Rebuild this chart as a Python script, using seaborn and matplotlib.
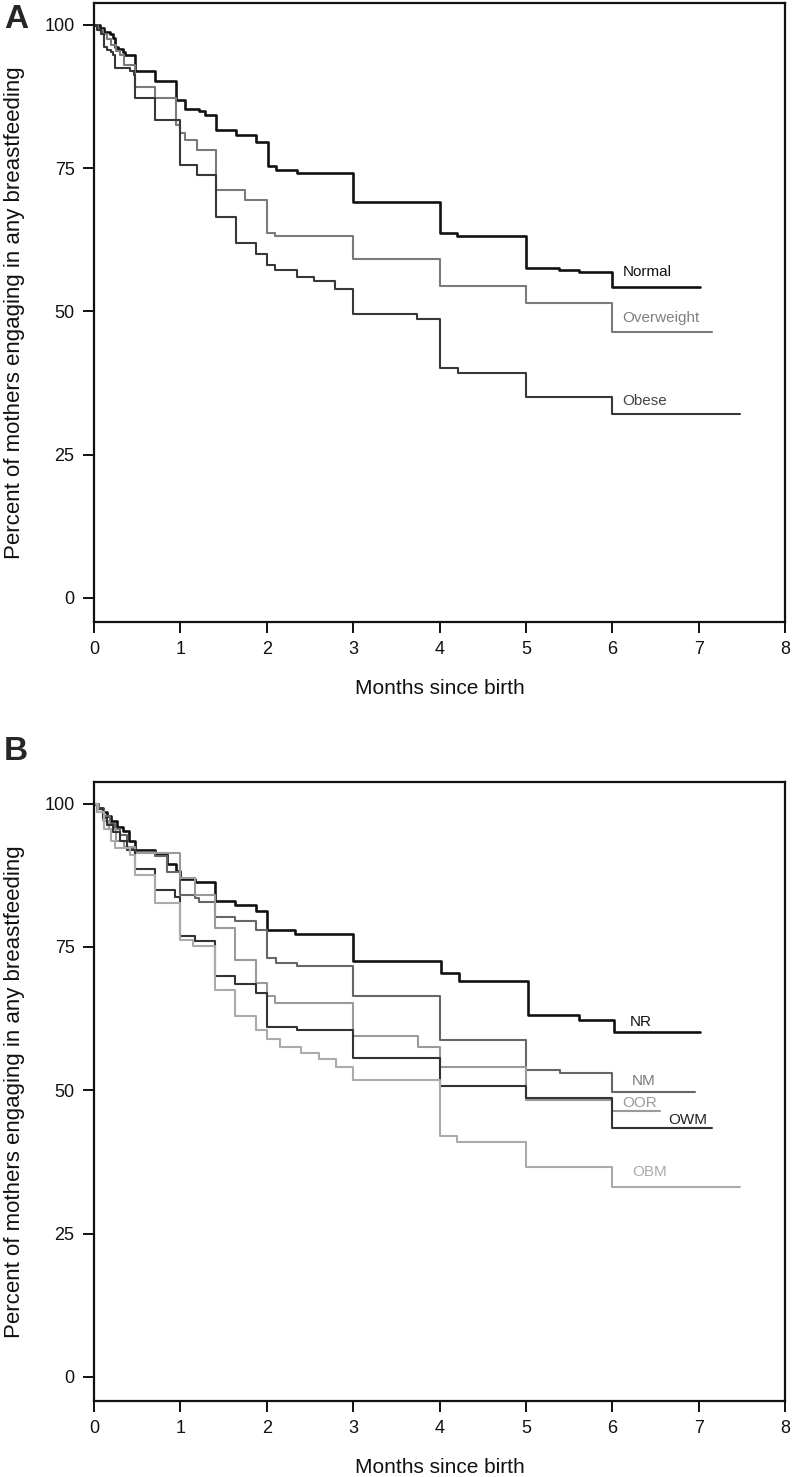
import numpy as np
import pandas as pd
import matplotlib
matplotlib.use("Agg")
import matplotlib.pyplot as plt
import seaborn as sns

# ---- Panel A: step curves (event time in months, percent still breastfeeding) ----
normal_t = [0, 0.07, 0.12, 0.18, 0.22, 0.24, 0.28, 0.34, 0.36, 0.47, 0.71, 0.95, 1.05, 1.22, 1.28,
            1.41, 1.64, 1.88, 2.01, 2.11, 2.35, 3.0, 4.0, 4.2, 5.0, 5.38, 5.62, 6.0, 7.02]
normal_y = [100, 99.4, 98.8, 98.3, 97.7, 96.2, 95.7, 95.3, 94.8, 91.9, 90.1, 86.9, 85.3, 84.9, 84.3,
            81.7, 80.8, 79.5, 75.3, 74.6, 74.1, 69.0, 63.6, 63.1, 57.5, 57.2, 56.8, 54.2, 54.2]

overweight_t = [0, 0.05, 0.1, 0.15, 0.2, 0.25, 0.3, 0.35, 0.47, 0.71, 0.95, 1.0, 1.05, 1.19, 1.41,
                1.75, 2.0, 2.1, 3.0, 4.0, 5.0, 6.0, 7.15]
overweight_y = [100, 99.0, 98.3, 97.5, 96.5, 95.5, 94.8, 93.0, 89.2, 87.2, 82.5, 81.1, 79.9, 78.2, 71.2,
                69.5, 63.7, 63.1, 59.2, 54.5, 51.5, 46.4, 46.4]

obese_t = [0, 0.03, 0.08, 0.11, 0.15, 0.2, 0.22, 0.24, 0.42, 0.46, 0.47, 0.71, 1.0, 1.19, 1.41,
           1.64, 1.88, 2.0, 2.1, 2.35, 2.55, 2.79, 3.0, 3.74, 4.0, 4.21, 5.0, 6.0, 7.48]
obese_y = [100, 99.0, 98.3, 96.2, 95.6, 95.3, 94.8, 92.4, 91.9, 91.3, 87.2, 83.4, 75.6, 73.8, 66.5,
           62.0, 60.0, 58.0, 57.2, 56.0, 55.3, 53.9, 49.6, 48.7, 40.1, 39.3, 35.0, 32.1, 32.1]

# ---- Panel B ----
nr_t = [0, 0.05, 0.1, 0.15, 0.2, 0.27, 0.33, 0.4, 0.47, 0.71, 0.85, 0.95, 1.0, 1.17, 1.4, 1.63,
        1.88, 2.0, 2.33, 3.0, 4.02, 4.22, 5.02, 5.62, 6.02, 7.02]
nr_y = [100, 99.3, 98.6, 97.8, 96.9, 96.0, 95.2, 93.5, 92.0, 91.2, 89.5, 88.3, 86.9, 86.3, 83.0, 82.4,
        81.2, 78.0, 77.3, 72.5, 70.5, 69.0, 63.1, 62.2, 60.1, 60.1]

nm_t = [0, 0.06, 0.12, 0.18, 0.24, 0.3, 0.38, 0.47, 0.71, 0.85, 1.0, 1.17, 1.22, 1.4, 1.63, 1.88,
        2.0, 2.11, 2.35, 3.0, 4.0, 5.0, 5.39, 6.0, 6.96]
nm_y = [100, 99.0, 97.8, 96.5, 95.5, 94.5, 92.3, 91.5, 90.8, 88.0, 84.1, 83.5, 82.9, 80.3, 79.5, 78.0,
        73.1, 72.2, 71.7, 66.4, 58.7, 53.6, 53.0, 49.7, 49.7]

oor_t = [0, 0.04, 0.1, 0.17, 0.25, 0.35, 0.47, 1.0, 1.17, 1.4, 1.63, 1.88, 2.0, 2.1, 3.0, 3.75,
         4.0, 5.0, 6.0, 6.55]
oor_y = [100, 98.5, 97.0, 95.5, 93.5, 92.5, 91.4, 87.0, 84.0, 78.3, 72.8, 68.7, 66.5, 65.2, 59.5, 57.6,
         54.0, 48.3, 46.3, 46.3]

owm_t = [0, 0.05, 0.1, 0.15, 0.22, 0.3, 0.38, 0.47, 0.71, 0.94, 1.0, 1.17, 1.4, 1.63, 1.88, 2.0,
         2.35, 3.0, 4.0, 5.0, 6.0, 7.16]
owm_y = [100, 99.0, 97.5, 96.3, 95.0, 93.5, 92.0, 88.6, 85.0, 83.8, 77.0, 76.0, 70.0, 68.5, 67.0, 61.0,
         60.6, 55.6, 50.8, 48.6, 43.4, 43.4]

obm_t = [0, 0.05, 0.11, 0.2, 0.24, 0.42, 0.47, 0.71, 1.0, 1.15, 1.4, 1.63, 1.88, 2.0, 2.15, 2.4,
         2.6, 2.8, 3.0, 4.0, 4.2, 5.0, 6.0, 7.48]
obm_y = [100, 98.6, 95.5, 93.5, 92.3, 91.0, 87.6, 82.7, 76.3, 75.1, 67.5, 63.0, 60.5, 59.0, 57.5, 56.5,
         55.5, 54.0, 51.8, 42.0, 41.0, 36.6, 33.2, 33.2]

x_ticks = [0, 1, 2, 3, 4, 5, 6, 7, 8]
y_ticks = [0, 25, 50, 75, 100]


def long_df(curves):
    frames = []
    for name, t, y in curves:
        frames.append(pd.DataFrame({"month": t, "pct": y, "group": name}))
    return pd.concat(frames, ignore_index=True)


df_a = long_df([("Normal", normal_t, normal_y),
                ("Overweight", overweight_t, overweight_y),
                ("Obese", obese_t, obese_y)])
df_b = long_df([("NR", nr_t, nr_y), ("NM", nm_t, nm_y), ("OOR", oor_t, oor_y),
                ("OWM", owm_t, owm_y), ("OBM", obm_t, obm_y)])

pal_a = {"Normal": "#111111", "Overweight": "#7a7a7a", "Obese": "#383838"}
pal_b = {"NR": "#111111", "NM": "#666666", "OOR": "#9a9a9a", "OWM": "#333333", "OBM": "#ababab"}
thick = ["Normal", "NR"]

# label positions for the curves (month, percent, text colour)
labels_a = [("Normal", 6.12, 56.9, "#111111"), ("Overweight", 6.12, 48.9, "#808080"),
            ("Obese", 6.12, 34.4, "#444444")]
labels_b = [("NR", 6.2, 61.9, "#111111"), ("NM", 6.22, 51.7, "#7a7a7a"),
            ("OOR", 6.11, 47.8, "#9a9a9a"), ("OWM", 6.65, 44.9, "#222222"),
            ("OBM", 6.23, 35.8, "#ababab")]

sns.set_style("ticks")
plt.rcParams["font.family"] = ["Liberation Sans", "DejaVu Sans"]

fig = plt.figure(figsize=(7.92, 14.77), dpi=100)
ax_a = fig.add_axes([0.1187, 0.5789, 0.8725, 0.4191])
ax_b = fig.add_axes([0.1187, 0.0515, 0.8725, 0.4191])

for ax, df, pal, labels in [(ax_a, df_a, pal_a, labels_a), (ax_b, df_b, pal_b, labels_b)]:
    sns.lineplot(data=df, x="month", y="pct", hue="group", palette=pal, estimator=None,
                 sort=False, drawstyle="steps-post", linewidth=1.5, legend=False, ax=ax)
    # black reference group is drawn a bit heavier
    for line, grp in zip(ax.lines, pal.keys()):
        if grp in thick:
            line.set_linewidth(1.9)
    for txt, lx, ly, col in labels:
        ax.text(lx, ly, txt, color=col, fontsize=11, ha="left", va="center")
    ax.set_xlim(0, 8)
    ax.set_ylim(-4.2, 103.8)
    ax.set_xticks(x_ticks)
    ax.set_yticks(y_ticks)
    ax.tick_params(axis="both", direction="out", length=8, width=1.4, labelsize=13, pad=6,
                   colors="#111111")
    for sp in ax.spines.values():
        sp.set_linewidth(1.6)
        sp.set_color("#111111")
    ax.set_xlabel("Months since birth", fontsize=15, color="#111111")
    ax.set_ylabel("Percent of mothers engaging in any breastfeeding", fontsize=16,
                  color="#111111")
    ax.xaxis.set_label_coords(0.5, -0.092)
    ax.yaxis.set_label_coords(-0.1, 0.5)

fig.text(0.02, 0.9865, "A", fontsize=24, fontweight="bold", ha="center", va="center")
fig.text(0.02, 0.491, "B", fontsize=24, fontweight="bold", ha="center", va="center")

fig.savefig("out.png", dpi=100)
